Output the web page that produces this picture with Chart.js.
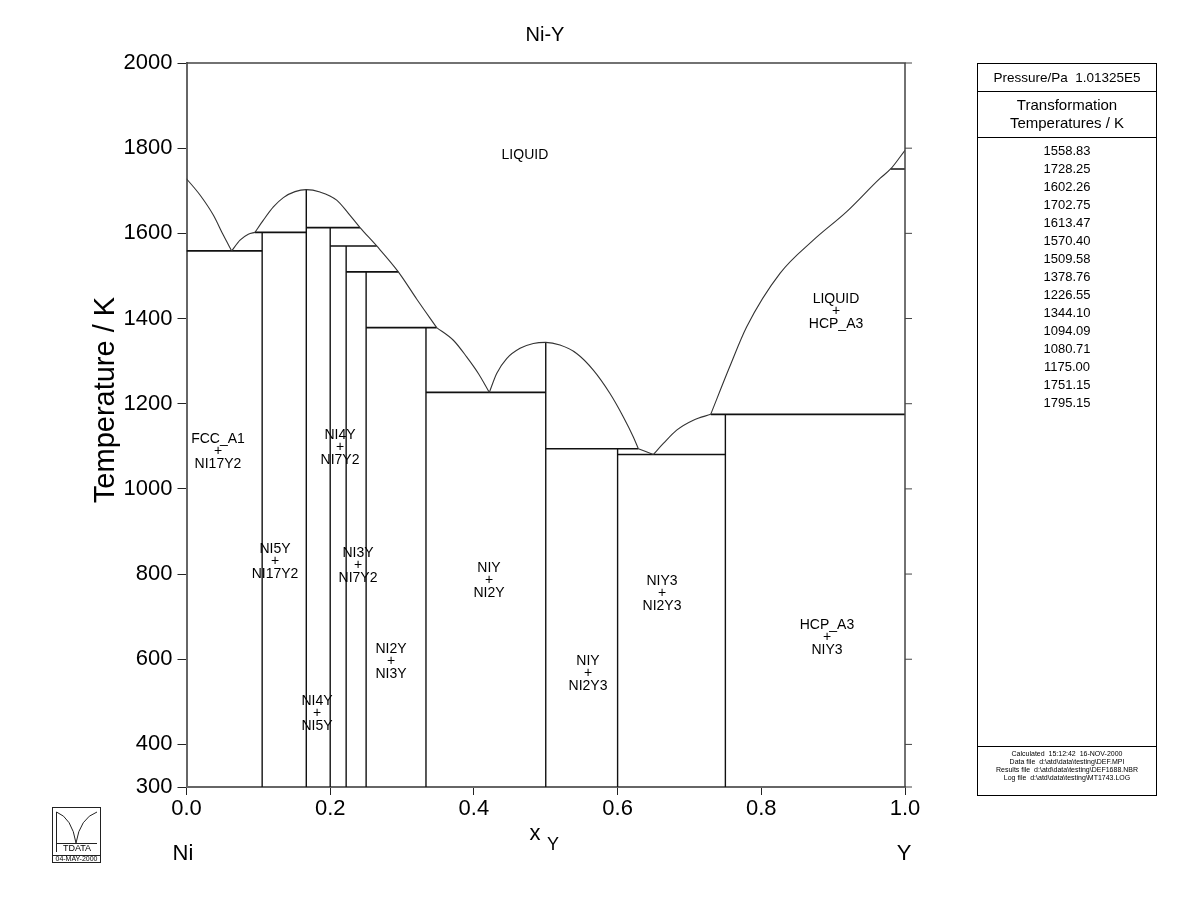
<!DOCTYPE html>
<html>
<head>
<meta charset="utf-8">
<script src="https://cdn.jsdelivr.net/npm/chart.js@4/dist/chart.umd.min.js"></script>
<style>
  body { margin: 0; background: #fff; font-family: "Liberation Sans", Arial, sans-serif; }
  #wrap { position: relative; width: 1200px; height: 923px; }
  #panel { position: absolute; left: 977px; top: 63px; width: 180px; height: 733px; box-sizing: border-box;
           border: 1px solid #000; color: #000; text-align: center; }
  #panel .press { height: 27px; line-height: 27px; border-bottom: 1px solid #000; font-size: 13.5px; white-space: pre; }
  #panel .head { height: 46px; box-sizing: border-box; padding-top: 4px; border-bottom: 1px solid #000; font-size: 15px; line-height: 18px; }
  #panel .vals { padding-top: 4px; font-size: 13px; line-height: 18px; }
  #panel .foot { position: absolute; left: 0; right: 0; bottom: 0; height: 49px; box-sizing: border-box;
                 border-top: 1px solid #000; padding-top: 3px; font-size: 7px; line-height: 8px; white-space: pre; }
</style>
</head>
<body>
<div id="wrap">
  <canvas id="phaseChart" width="1200" height="923"></canvas>
  <div id="panel">
    <div class="press">Pressure/Pa  1.01325E5</div>
    <div class="head">Transformation<br>Temperatures / K</div>
    <div class="vals" id="vals"></div>
    <div class="foot">Calculated  15:12:42  16-NOV-2000
Data file  d:\atd\data\testing\DEF.MPI
Results file  d:\atd\data\testing\DEF1688.NBR
Log file  d:\atd\data\testing\MT1743.LOG</div>
  </div>
</div>
<script>
// axis ticks
const xTicks = [0, 0.2, 0.4, 0.6, 0.8, 1.0];
const yTicks = [300, 400, 600, 800, 1000, 1200, 1400, 1600, 1800, 2000];

// transformation temperatures listed in the side table
const transTemps = ["1558.83", "1728.25", "1602.26", "1702.75", "1613.47", "1570.40", "1509.58",
  "1378.76", "1226.55", "1344.10", "1094.09", "1080.71", "1175.00", "1751.15", "1795.15"];

// liquidus curves [x_Y, T]
const liqNi = [[0, 1728.25], [0.0188, 1690], [0.0373, 1643], [0.0512, 1596], [0.0629, 1558.83]];
const liqNi17Y2 = [[0.0629, 1558.83], [0.0745, 1584], [0.086, 1598], [0.0953, 1602.26]];
const liqNi5Y = [[0.0953, 1602.26], [0.107, 1631], [0.1209, 1662], [0.1348, 1684], [0.151, 1698],
  [0.1667, 1702.75], [0.1858, 1697], [0.209, 1678], [0.2253, 1647], [0.2415, 1613.47],
  [0.2647, 1570.4], [0.2948, 1509.58], [0.3203, 1446], [0.3482, 1378.76]];
const liqNi2Y = [[0.3482, 1378.76], [0.3714, 1349], [0.3899, 1310], [0.4062, 1271], [0.4215, 1226.55]];
const liqNiY = [[0.4215, 1226.55], [0.4317, 1271], [0.4456, 1306], [0.4642, 1330], [0.4827, 1341.5],
  [0.5, 1344.1], [0.5198, 1337.6], [0.543, 1318], [0.5662, 1279], [0.5894, 1224], [0.608, 1169],
  [0.6219, 1122], [0.6289, 1094.09]];
const liqNi2Y3 = [[0.6289, 1094.09], [0.6497, 1080.71]];
const liqNiY3 = [[0.6497, 1080.71], [0.6637, 1106.6], [0.6822, 1138], [0.7054, 1161.4], [0.7296, 1175]];
const liqY = [[0.7296, 1175], [0.756, 1286.6], [0.7797, 1380.6], [0.826, 1506], [0.8724, 1584],
  [0.9189, 1651], [0.9652, 1729], [0.98, 1751.15], [1.0, 1795.15]];

// invariant reactions [T, xLeft, xRight]
const invariants = [
  [1558.83, 0, 0.1053], [1602.26, 0.0953, 0.1667], [1613.47, 0.1667, 0.2415],
  [1570.40, 0.2, 0.2647], [1509.58, 0.2222, 0.2948], [1378.76, 0.25, 0.3482],
  [1226.55, 0.3333, 0.5], [1094.09, 0.5, 0.6289], [1080.71, 0.6, 0.75],
  [1175.00, 0.7296, 1.0], [1751.15, 0.98, 1.0]
];

// stoichiometric compounds [x_Y, top T]
const compounds = [
  [0.1053, 1602.26], [0.1667, 1702.75], [0.2, 1613.47], [0.2222, 1570.40], [0.25, 1509.58],
  [0.3333, 1378.76], [0.5, 1344.10], [0.6, 1094.09], [0.75, 1175.00]
];

// phase field labels [x_Y, T, lines]
const fieldLabels = [
  [0.471, 1784, ["LIQUID"]],
  [0.904, 1417, ["LIQUID", "+", "HCP_A3"]],
  [0.0438, 1088, ["FCC_A1", "+", "NI17Y2"]],
  [0.2136, 1098, ["NI4Y", "+", "NI7Y2"]],
  [0.1232, 830, ["NI5Y", "+", "NI17Y2"]],
  [0.2387, 821, ["NI3Y", "+", "NI7Y2"]],
  [0.421, 785, ["NIY", "+", "NI2Y"]],
  [0.2846, 595, ["NI2Y", "+", "NI3Y"]],
  [0.1816, 473, ["NI4Y", "+", "NI5Y"]],
  [0.5588, 567, ["NIY", "+", "NI2Y3"]],
  [0.6618, 755, ["NIY3", "+", "NI2Y3"]],
  [0.8914, 652, ["HCP_A3", "+", "NIY3"]]
];

document.getElementById("vals").innerHTML = transTemps.join("<br>");

const FONT = "'Liberation Sans', Arial, sans-serif";
const toPts = arr => arr.map(p => ({ x: p[0], y: p[1] }));

const datasets = [];
[liqNi, liqNi17Y2, liqNi5Y, liqNi2Y, liqNiY, liqNi2Y3, liqNiY3, liqY].forEach(c => {
  datasets.push({ data: toPts(c), borderColor: "#333", borderWidth: 1.1, cubicInterpolationMode: "monotone" });
});
invariants.forEach(([t, a, b]) => {
  datasets.push({ data: [{ x: a, y: t }, { x: b, y: t }], borderColor: "#111", borderWidth: 1.6 });
});
compounds.forEach(([x, t]) => {
  datasets.push({ data: [{ x: x, y: t }, { x: x, y: 300 }], borderColor: "#111", borderWidth: 1.4 });
});

// extra drawing: frame, labels, titles, logo
const decor = {
  id: "decor",
  afterDraw(chart) {
    const c = chart.ctx, a = chart.chartArea;
    const sx = chart.scales.x, sy = chart.scales.y;
    c.save();
    // top and right frame
    c.strokeStyle = "#444"; c.lineWidth = 1.5;
    c.beginPath();
    c.moveTo(a.left, a.top); c.lineTo(a.right, a.top); c.lineTo(a.right, a.bottom);
    c.stroke();
    // right-hand outer ticks
    c.lineWidth = 1;
    yTicks.forEach(v => {
      const y = sy.getPixelForValue(v);
      c.beginPath(); c.moveTo(a.right, y); c.lineTo(a.right + 7, y); c.stroke();
    });
    // field labels
    c.fillStyle = "#000";
    c.textAlign = "center"; c.textBaseline = "middle";
    c.font = "14px " + FONT;
    fieldLabels.forEach(([x, t, lines]) => {
      const px = sx.getPixelForValue(x), py = sy.getPixelForValue(t);
      if (lines.length === 1) { c.fillText(lines[0], px, py); return; }
      c.fillText(lines[0], px, py - 12);
      c.fillText(lines[1], px, py);
      c.fillText(lines[2], px, py + 13);
    });
    // titles
    c.font = "20px " + FONT;
    c.fillText("Ni-Y", 545, 35);
    c.font = "22px " + FONT;
    c.fillText("Ni", 183, 854);
    c.fillText("Y", 904, 854);
    c.fillText("x", 535, 834);
    c.font = "18px " + FONT;
    c.fillText("Y", 553, 845);
    c.save();
    c.translate(106, 400);
    c.rotate(-Math.PI / 2);
    c.font = "29px " + FONT;
    c.fillText("Temperature / K", 0, 0);
    c.restore();
    // logo
    c.strokeStyle = "#222"; c.lineWidth = 1;
    c.strokeRect(52.5, 807.5, 48, 55);
    c.beginPath(); c.moveTo(52.5, 855.5); c.lineTo(100.5, 855.5); c.stroke();
    c.beginPath(); c.moveTo(56.5, 812); c.lineTo(56.5, 852); c.stroke();
    c.beginPath(); c.moveTo(56.5, 812); c.quadraticCurveTo(72, 818, 76, 843); c.stroke();
    c.beginPath(); c.moveTo(76, 843); c.quadraticCurveTo(80, 818, 97, 812); c.stroke();
    c.beginPath(); c.moveTo(56.5, 843.5); c.lineTo(97, 843.5); c.stroke();
    c.font = "9px " + FONT;
    c.fillText("TDATA", 77, 849);
    c.font = "7px " + FONT;
    c.fillText("04-MAY-2000", 76.5, 859.5);
    c.restore();
  }
};

const ctx = document.getElementById("phaseChart").getContext("2d");
const phaseChart = new Chart(ctx, {
  type: "line",
  data: { datasets: datasets },
  options: {
    responsive: false,
    animation: false,
    elements: { point: { radius: 0, hoverRadius: 0 } },
    layout: { padding: { top: 63, right: 295, bottom: 0, left: 0 } },
    plugins: { legend: { display: false }, tooltip: { enabled: false } },
    scales: {
      x: {
        type: "linear", min: 0, max: 1,
        afterBuildTicks: s => { s.ticks = xTicks.map(v => ({ value: v })); },
        afterFit: s => { s.height = 136; },
        ticks: { callback: v => v.toFixed(1), color: "#000", font: { size: 22, family: FONT }, padding: 1, maxRotation: 0 },
        grid: { drawOnChartArea: false, tickLength: 8, color: "#222" },
        border: { color: "#666", width: 2 }
      },
      y: {
        type: "linear", min: 300, max: 2000,
        afterBuildTicks: s => { s.ticks = yTicks.map(v => ({ value: v })); },
        afterFit: s => { s.width = 186.5; },
        ticks: { callback: v => String(v), color: "#000", font: { size: 22, family: FONT }, padding: 5 },
        grid: { drawOnChartArea: false, tickLength: 9, color: "#222" },
        border: { color: "#666", width: 2 }
      }
    }
  },
  plugins: [decor]
});
</script>
</body>
</html>
